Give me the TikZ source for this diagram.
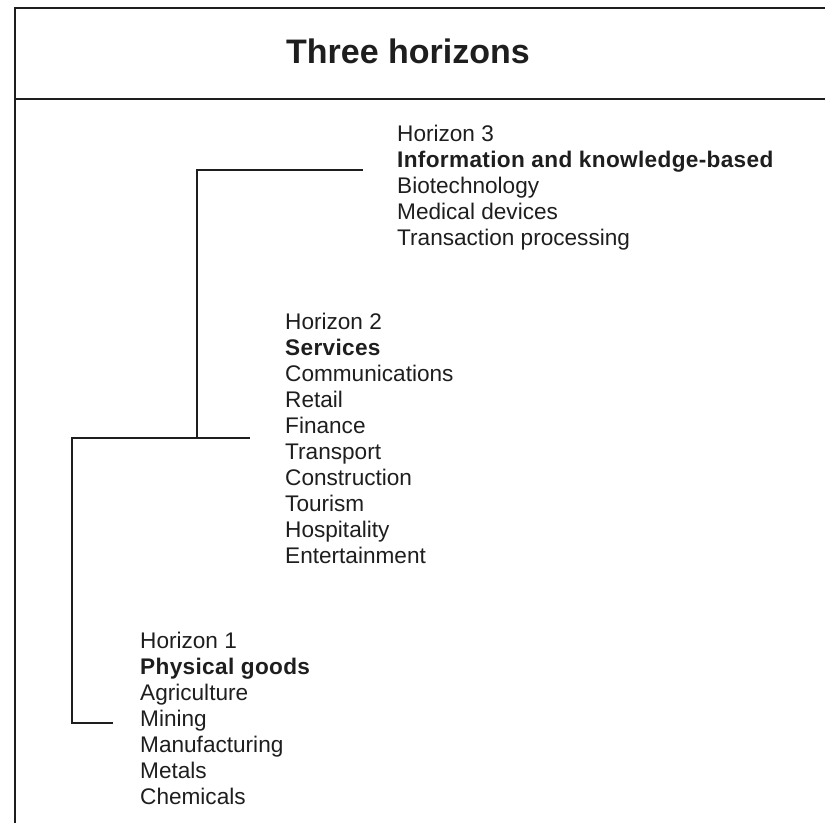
\documentclass[tikz,border=0pt]{standalone}
\usepackage{fontspec}
\setmainfont{Liberation Sans}
\definecolor{ink}{HTML}{1E1E1E}
% bold group heading, slightly tracked
\newcommand{\grouphead}[1]{{\bfseries\addfontfeature{LetterSpace=1.5}#1}}
\begin{document}
\begin{tikzpicture}[x=1pt,y=-1pt,
  rule/.style={line width=1.8pt, draw=ink},
  link/.style={line width=2pt, draw=ink},
  block/.style={anchor=north west, inner sep=0pt, align=left, text=ink,
    font=\fontsize{22.6}{26}\selectfont},
  heading/.style={anchor=base, inner sep=0pt, text=ink,
    font=\bfseries\fontsize{34}{40}\selectfont}]
\useasboundingbox (0,0) rectangle (825,823);

% outer frame and title bar
\coordinate (frameBL) at (15,823);
\coordinate (frameTL) at (15,8);
\coordinate (frameTR) at (825,8);
\coordinate (sepL) at (15,99);
\coordinate (sepR) at (825,99);
\draw[rule] (frameBL) -- (frameTL) -- (frameTR);
\draw[rule] (sepL) -- (sepR);
\node[heading] (title) at (408,63) {Three horizons};

% the three horizons
\node[block] (h3) at (397,125) {Horizon 3\\\grouphead{Information and knowledge-based}\\Biotechnology\\Medical devices\\Transaction processing};
\node[block] (h2) at (285,313) {Horizon 2\\\grouphead{Services}\\Communications\\Retail\\Finance\\Transport\\Construction\\Tourism\\Hospitality\\Entertainment};
\node[block] (h1) at (140,632) {Horizon 1\\\grouphead{Physical goods}\\Agriculture\\Mining\\Manufacturing\\Metals\\Chemicals};

% connecting tree
\coordinate (h3tip) at (363,170);
\coordinate (h3root) at (197,438);
\coordinate (h2tail) at (72,438);
\coordinate (h2tip) at (250,438);
\coordinate (h1tip) at (113,723);
\draw[link] (h3tip) -| (h3root);
\draw[link] (h2tip) -- (h2tail) |- (h1tip);
\end{tikzpicture}
\end{document}
